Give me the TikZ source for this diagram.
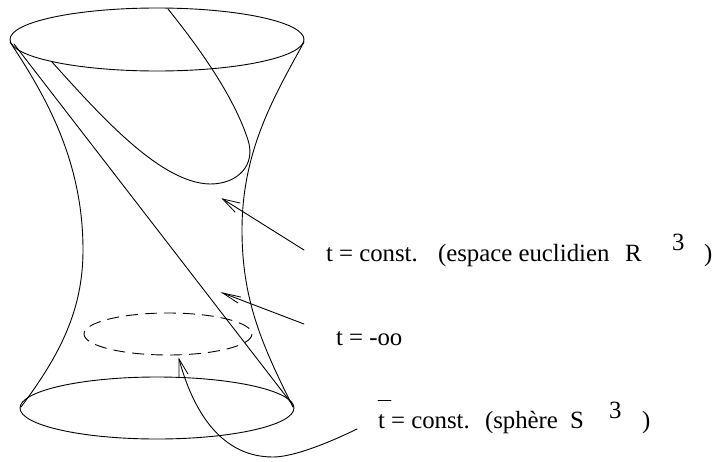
\documentclass[tikz,border=0pt]{standalone}
\usepackage{fontspec}
\setmainfont{Liberation Serif}
\tikzset{
  curveline/.style={draw=black,line width=0.9pt,line join=round,line cap=round},
  barbline/.style={draw=black,line width=0.8pt,line cap=round},
  lab/.style={anchor=base west,inner sep=0pt,outer sep=0pt,font=\fontsize{24.8}{26}\selectfont},
  sup3/.style={anchor=base west,inner sep=0pt,outer sep=0pt,font=\fontsize{24.8}{26}\selectfont}
}
\begin{document}
\begin{tikzpicture}[x=1pt,y=-1pt]
\useasboundingbox[fill=white] (0,0) rectangle (719,461);
% ellipses
\draw[curveline] (157,39.5) ellipse [x radius=147, y radius=31.5];
\draw[curveline] (157,408) ellipse [x radius=137, y radius=31];
\draw[curveline,line cap=butt,dash pattern=on 12pt off 7pt] (168,334) ellipse [x radius=84, y radius=21];
% profiles
\draw[curveline] (10,42) .. controls (45,95) and (83,160) .. (83,250) .. controls (83,310) and (60,355) .. (21,407);
\draw[curveline] (304,42) .. controls (275,95) and (242,150) .. (242,230) .. controls (242,300) and (262,345) .. (293,407);
% diagonal
\draw[curveline] (14,44) -- (292,404);
% t = const curve
\draw[curveline] (52,62) .. controls (100,115) and (160,183) .. (210,184) .. controls (238,184) and (256,165) .. (248,140) .. controls (235,100) and (205,55) .. (168,9);
% arrows
\coordinate (a1) at (222.7,199); \coordinate (t1) at (304,250);
\draw[curveline] (t1) -- (a1);
\draw[barbline] (240,203) -- (a1) -- (235,212);
\coordinate (a2) at (222.7,293); \coordinate (t2) at (304,324);
\draw[curveline] (t2) -- (a2);
\draw[barbline] (240.7,297) -- (a2) -- (238,303);
\coordinate (a3) at (179,359); \coordinate (t3) at (357,429);
\draw[curveline] (t3) .. controls (320,447) and (290,457) .. (273,457) .. controls (215,457) and (190,400) .. (a3);
\draw[barbline] (179,377) -- (a3) -- (188,374);
% labels
\node[lab] (l1) at (326,261) {t = const.};
\node[lab] (l1b) at (438,261) {(espace euclidien};
\node[lab] (l1c) at (625,261) {R};
\node[sup3] (l1d) at (672,250) {3};
\node[lab] (l1e) at (704,261) {)};
\node[lab] (l2) at (336,345) {t = -oo};
\node[lab] (l3) at (378,428) {t = const.};
\node[lab] (l3b) at (485,428) {(sphère};
\node[lab] (l3c) at (570,428) {S};
\node[sup3] (l3d) at (609,418) {3};
\node[lab] (l3e) at (642,428) {)};
\draw[barbline] (378,400) -- (391,400);
\end{tikzpicture}
\end{document}
